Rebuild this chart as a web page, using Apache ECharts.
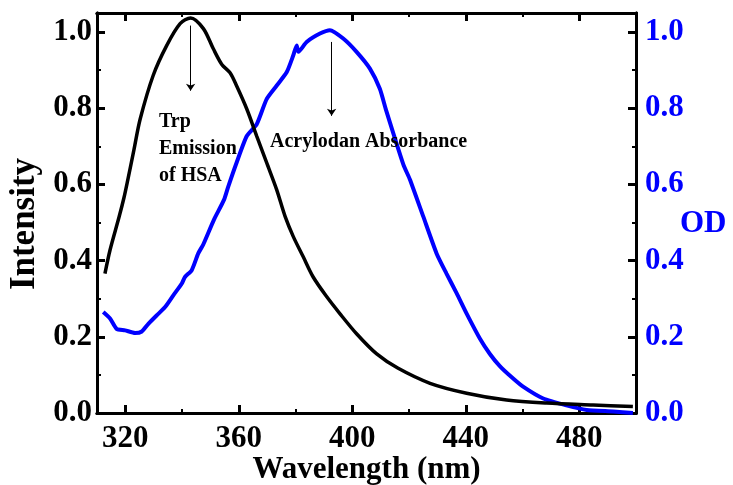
<!DOCTYPE html>
<html>
<head>
<meta charset="utf-8">
<title>Trp emission / Acrylodan absorbance</title>
<script src="https://cdn.jsdelivr.net/npm/echarts@6/dist/echarts.min.js"></script>
<style>
  html, body { margin: 0; padding: 0; background: #fff; }
  #main { width: 733px; height: 485px; }
</style>
</head>
<body>
<div id="main"></div>
<script>
// Trp emission of HSA (left axis, Intensity)
var emissionWl = [312.8, 314.6, 317.8, 319.5, 320.8, 323.0, 325.2, 329.8, 334.6, 339.3, 343.0,
  347.5, 351.0, 354.0, 356.9, 359.2, 362.8, 366.3, 369.8, 373.3, 376.3,
  379.2, 382.7, 386.2, 391.0, 395.6, 401.5, 408.6, 416.0, 427.4, 440.3,
  454.4, 468.5, 484.9, 498.9];
var emissionInt = [0.366, 0.428, 0.515, 0.565, 0.61, 0.69, 0.771, 0.886, 0.965, 1.022, 1.037,
  1.009, 0.956, 0.915, 0.893, 0.859, 0.798, 0.727, 0.657, 0.587, 0.516,
  0.463, 0.41, 0.357, 0.305, 0.261, 0.208, 0.155, 0.118, 0.078, 0.052,
  0.034, 0.026, 0.021, 0.017];

// Acrylodan absorbance (right axis, OD)
var absorbWl = [312.2, 314.6, 316.9, 319.9, 323.4, 325.8, 328.1, 331.0, 334.0, 336.9,
  339.9, 341.0, 343.4, 345.7, 347.5, 351.2, 354.8, 356.3, 359.2, 362.8,
  366.3, 369.8, 373.3, 376.9, 379.2, 380.4, 381.0, 383.9, 388.6, 392.1,
  396.8, 401.5, 406.2, 409.7, 411.9, 418.0, 420.3, 425.0, 429.7, 433.2,
  436.8, 440.3, 445.0, 448.5, 452.0, 456.0, 460.2, 467.3, 475.5, 482.6, 492.0, 498.9];
var absorbOD = [0.265, 0.248, 0.221, 0.217, 0.21, 0.214, 0.234, 0.256, 0.278, 0.309,
  0.34, 0.357, 0.375, 0.419, 0.443, 0.507, 0.56, 0.595, 0.657, 0.727,
  0.758, 0.824, 0.859, 0.895, 0.939, 0.965, 0.948, 0.974, 0.996, 1.005,
  0.983, 0.948, 0.904, 0.851, 0.795, 0.652, 0.613, 0.516, 0.419, 0.366,
  0.314, 0.261, 0.195, 0.155, 0.123, 0.095, 0.069, 0.038, 0.02, 0.008, 0.004, 0.0];

// tick values
var xMajor = [320, 360, 400, 440, 480];
var xMinor = [340, 380, 420, 460];
var yMajor = [0, 0.2, 0.4, 0.6, 0.8, 1.0];
var yMinor = [0.1, 0.3, 0.5, 0.7, 0.9];

// annotation arrows [x, yFrom, yTo]
var trpArrow = [343, 1.017, 0.846];
var acrArrow = [392.7, 0.974, 0.78];

function zip(a, b) {
  var out = [];
  for (var i = 0; i < a.length; i++) out.push([a[i], b[i]]);
  return out;
}

var FONT = 'Liberation Serif';
var lineStyle = { color: '#000', width: 3 };

function xAx(pos, values, len, w, opts) {
  return Object.assign({
    type: 'value', position: pos, min: 310, max: 500,
    axisLine: { show: true, onZero: false, lineStyle: lineStyle },
    axisTick: { show: true, inside: true, length: len, customValues: values, lineStyle: { color: '#000', width: w } },
    axisLabel: { show: false },
    splitLine: { show: false }
  }, opts || {});
}
function yAx(pos, values, len, w, opts) {
  return Object.assign({
    type: 'value', position: pos, min: 0, max: 1.05,
    axisLine: { show: true, onZero: false, lineStyle: lineStyle },
    axisTick: { show: true, inside: true, length: len, customValues: values, lineStyle: { color: '#000', width: w } },
    axisLabel: { show: false },
    splitLine: { show: false }
  }, opts || {});
}

var chart = echarts.init(document.getElementById('main'));
chart.setOption({
  animation: false,
  backgroundColor: '#fff',
  grid: { left: 97, right: 97, top: 13, bottom: 72, containLabel: false, outerBoundsMode: 'none' },
  xAxis: [
    xAx('bottom', xMajor, 8, 3, {
      name: 'Wavelength (nm)', nameLocation: 'middle', nameGap: 41, nameMoveOverlap: false,
      nameTextStyle: { fontFamily: FONT, fontWeight: 'bold', fontSize: 31, color: '#000' },
      axisLabel: { show: true, customValues: xMajor, margin: 10, fontFamily: FONT, fontWeight: 'bold', fontSize: 31, color: '#000' }
    }),
    xAx('bottom', xMinor, 4, 2),
    xAx('top', xMajor, 8, 3),
    xAx('top', xMinor, 4, 2)
  ],
  yAxis: [
    yAx('left', yMajor, 8, 3, {
      name: 'Intensity', nameLocation: 'middle', nameGap: 55, nameMoveOverlap: false,
      nameTextStyle: { fontFamily: FONT, fontWeight: 'bold', fontSize: 35, color: '#000', padding: [0, 22, 0, 0] },
      axisLabel: { show: true, customValues: yMajor, margin: 5, fontFamily: FONT, fontWeight: 'bold', fontSize: 31, color: '#000',
        formatter: function (v) { return v.toFixed(1); } }
    }),
    yAx('right', yMajor, 8, 3, {
      name: 'OD', nameLocation: 'middle', nameGap: 44, nameRotate: 0, nameMoveOverlap: false,
      nameTextStyle: { fontFamily: FONT, fontWeight: 'bold', fontSize: 31, color: '#0000ff', verticalAlign: 'top', lineHeight: 22 },
      axisLabel: { show: true, customValues: yMajor, margin: 9, fontFamily: FONT, fontWeight: 'bold', fontSize: 31, color: '#0000ff',
        formatter: function (v) { return v.toFixed(1); } }
    }),
    yAx('left', yMinor, 4, 2),
    yAx('right', yMinor, 4, 2)
  ],
  series: [
    {
      name: 'Trp Emission', type: 'line', xAxisIndex: 0, yAxisIndex: 0,
      data: zip(emissionWl, emissionInt), showSymbol: false, smooth: 0.3,
      lineStyle: { color: '#000', width: 3.5 }, z: 3,
      markLine: {
        silent: true, symbol: ['none', 'arrow'], symbolSize: 7,
        lineStyle: { color: '#000', width: 1, type: 'solid' }, label: { show: false },
        data: [[{ coord: [trpArrow[0], trpArrow[1]] }, { coord: [trpArrow[0], trpArrow[2]] }]]
      }
    },
    {
      name: 'Acrylodan Absorbance', type: 'line', xAxisIndex: 0, yAxisIndex: 1,
      data: zip(absorbWl, absorbOD), showSymbol: false, smooth: 0.2,
      lineStyle: { color: '#0000ff', width: 4 }, z: 2,
      markLine: {
        silent: true, symbol: ['none', 'arrow'], symbolSize: 7,
        lineStyle: { color: '#000', width: 1, type: 'solid' }, label: { show: false },
        data: [[{ coord: [acrArrow[0], acrArrow[1]] }, { coord: [acrArrow[0], acrArrow[2]] }]]
      }
    }
  ],
  graphic: [
    { type: 'text', left: 159, top: 108, z: 10,
      style: { text: 'Trp\nEmission\nof HSA', font: 'bold 20px "Liberation Serif"', lineHeight: 27, fill: '#000' } },
    { type: 'text', left: 270, top: 129, z: 10,
      style: { text: 'Acrylodan Absorbance', font: 'bold 20px "Liberation Serif"', lineHeight: 26, fill: '#000' } }
  ]
});
</script>
</body>
</html>
